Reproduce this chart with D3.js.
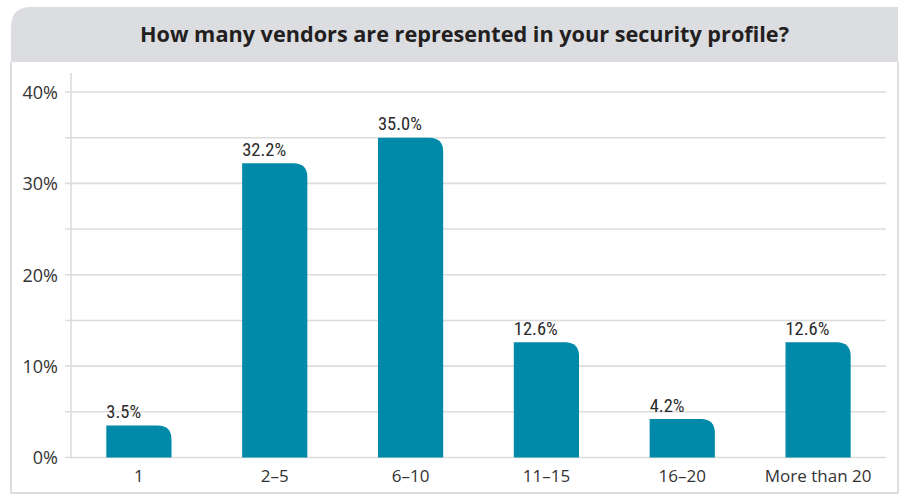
<!DOCTYPE html>
<html>
<head>
<meta charset="utf-8">
<script src="https://cdn.jsdelivr.net/npm/d3@7"></script>
<style>
  html, body { margin: 0; padding: 0; background: #fff; }
  svg { display: block; }
</style>
</head>
<body>
<svg id="chart" width="905" height="495"></svg>
<script>
// Survey answers: number of vendors in a security profile
const categories = ["1", "2–5", "6–10", "11–15", "16–20", "More than 20"];
const shares = [3.5, 32.2, 35.0, 12.6, 4.2, 12.6];
const yTicks = [0, 5, 10, 15, 20, 25, 30, 35, 40];
const yLabelTicks = [0, 10, 20, 30, 40];
const title = "How many vendors are represented in your security profile?";

const svg = d3.select("#chart");

// Frame: box with gray header band, rounded top-left corner
const fx0 = 11, fy0 = 7, fx1 = 898, fy1 = 493, headerBottom = 62, rc = 20;
svg.append("path")
  .attr("d", `M${fx0},${fy0 + rc} Q${fx0},${fy0} ${fx0 + rc},${fy0} L${fx1},${fy0} L${fx1},${headerBottom} L${fx0},${headerBottom} Z`)
  .attr("fill", "#dcdde0");
svg.append("path")
  .attr("d", `M${fx0},${headerBottom} L${fx0},${fy1} L${fx1},${fy1} L${fx1},${headerBottom}`)
  .attr("fill", "none")
  .attr("stroke", "#dedede")
  .attr("stroke-width", 2);

svg.append("text")
  .attr("x", (fx0 + fx1) / 2 + 10)
  .attr("y", 42)
  .attr("text-anchor", "middle")
  .attr("font-family", "'Open Sans', sans-serif")
  .attr("font-weight", 700)
  .attr("font-size", 22)
  .attr("fill", "#231f20")
  .attr("textLength", 649)
  .attr("lengthAdjust", "spacingAndGlyphs")
  .text(title);

// Plot area
const plotLeft = 71, plotRight = 886, plotTop = 92, plotBottom = 457.5;
const x = d3.scaleBand().domain(categories).range([plotLeft, plotRight]).paddingInner(0.52).paddingOuter(0.26);
const y = d3.scaleLinear().domain([0, 40]).range([plotBottom, plotTop]);

// Gridlines every 5%
svg.append("g").selectAll("line").data(yTicks).join("line")
  .attr("x1", plotLeft - 6).attr("x2", plotRight)
  .attr("y1", d => y(d)).attr("y2", d => y(d))
  .attr("stroke", "#dcdcdc")
  .attr("stroke-width", 1.6);

// Vertical axis line
svg.append("line")
  .attr("x1", plotLeft).attr("x2", plotLeft)
  .attr("y1", 73).attr("y2", plotBottom)
  .attr("stroke", "#dcdcdc")
  .attr("stroke-width", 1.6);

// Y tick labels
const yAxis = d3.axisLeft(y).tickValues(yLabelTicks).tickFormat(d => d + "%").tickSize(0).tickPadding(13);
const yg = svg.append("g").attr("transform", `translate(${plotLeft},0)`).call(yAxis);
yg.select(".domain").remove();
yg.selectAll("text")
  .attr("font-family", "'Open Sans', sans-serif")
  .attr("font-size", 18)
  .attr("fill", "#333")
  .attr("dy", "0.36em");

// X category labels
const xAxis = d3.axisBottom(x).tickSize(0).tickPadding(12);
const xg = svg.append("g").attr("transform", `translate(0,${plotBottom})`).call(xAxis);
xg.select(".domain").remove();
xg.selectAll("text")
  .attr("font-family", "'Open Sans', sans-serif")
  .attr("font-size", 17)
  .attr("fill", "#333");

// Bars with a rounded top-right corner
const r = 14;
function barPath(d, i) {
  const x0 = x(categories[i]), w = x.bandwidth();
  const y0 = y(d), y1 = y(0);
  const rr = Math.min(r, y1 - y0, w);
  return `M${x0},${y1} L${x0},${y0} L${x0 + w - rr},${y0} Q${x0 + w},${y0} ${x0 + w},${y0 + rr} L${x0 + w},${y1} Z`;
}
svg.append("g").selectAll("path").data(shares).join("path")
  .attr("d", (d, i) => barPath(d, i))
  .attr("fill", "#0089a8");

// Value labels, left-aligned with each bar
svg.append("g").selectAll("text").data(shares).join("text")
  .attr("x", (d, i) => x(categories[i]))
  .attr("y", d => y(d) - 7.5)
  .attr("font-family", "'Liberation Sans Narrow', 'Roboto Condensed', sans-serif")
  .attr("font-size", 18.5)
  .attr("font-weight", 400)
  .attr("fill", "#2b2b2b")
  .text(d => d.toFixed(1) + "%");
</script>
</body>
</html>
